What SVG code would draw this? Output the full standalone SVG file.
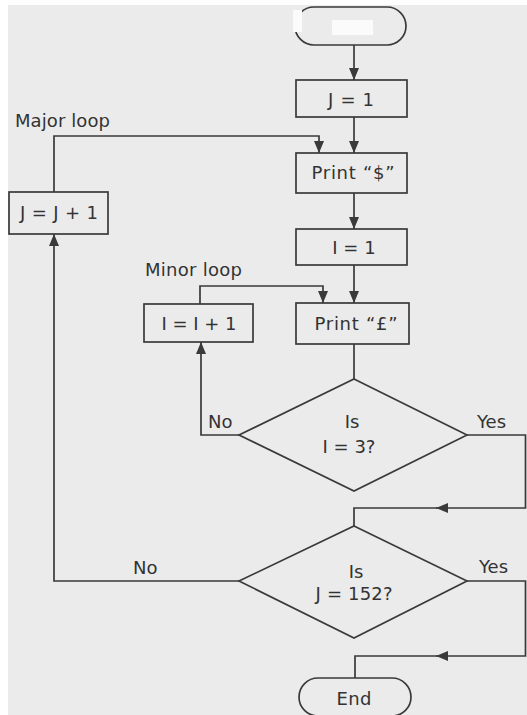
<svg xmlns="http://www.w3.org/2000/svg" width="527" height="715" viewBox="0 0 527 715">
<style>
.bg{fill:#ebebeb}
.shape{fill:none;stroke:#3a3a3a;stroke-width:1.7}
.line{fill:none;stroke:#3a3a3a;stroke-width:1.7}
.t{font-family:"DejaVu Sans","Liberation Sans",sans-serif;font-size:18px;fill:#333}
.c{text-anchor:middle}
.patch{fill:#fbfbfb}
</style>
<defs>
<marker id="arr" viewBox="0 0 12 10" refX="12" refY="5" markerWidth="12" markerHeight="10" markerUnits="userSpaceOnUse" orient="auto">
<path d="M0 0 L12 5 L0 10 Z" fill="#3a3a3a"/>
</marker>
</defs>
<rect width="527" height="715" fill="#ffffff"/>
<rect class="bg" x="8" y="5" width="519" height="710"/>
<text class="t" x="15" y="127" textLength="95">Major loop</text>
<text class="t" x="145" y="276" textLength="97">Minor loop</text>
<g id="connectors">
<path class="line" d="M354 45 V80" marker-end="url(#arr)"/>
<path class="line" d="M354 117 V153" marker-end="url(#arr)"/>
<path class="line" d="M54 192 V136 H319 V153" marker-end="url(#arr)"/>
<path class="line" d="M354 193 V229" marker-end="url(#arr)"/>
<path class="line" d="M354 265 V303" marker-end="url(#arr)"/>
<path class="line" d="M200 304 V286 H323 V303" marker-end="url(#arr)"/>
<path class="line" d="M354 344 V379"/>
<path class="line" d="M239 435 H201 V342" marker-end="url(#arr)"/>
<path class="line" d="M467 435 H525.5 V508 H436" marker-end="url(#arr)"/>
<path class="line" d="M437 508 H354 V526"/>
<path class="line" d="M239 581 H54 V234" marker-end="url(#arr)"/>
<path class="line" d="M467 581 H525.5 V656 H436" marker-end="url(#arr)"/>
<path class="line" d="M437 656 H355 V678"/>
<text class="t" x="208" y="428">No</text>
<text class="t" x="477" y="428">Yes</text>
<text class="t" x="133" y="574">No</text>
<text class="t" x="479" y="573">Yes</text>
</g>
<g id="start">
<rect class="shape" x="295" y="7" width="111" height="38" rx="19"/>
<rect class="patch" x="332" y="20" width="41" height="15"/>
<rect class="patch" x="293" y="10" width="9" height="22"/>
</g>
<g id="j1">
<rect class="shape" x="296" y="80" width="111" height="37"/>
<text class="t c" x="351" y="106" textLength="46">J = 1</text>
</g>
<g id="print-dollar">
<rect class="shape" x="296" y="153" width="111" height="40"/>
<text class="t c" x="353" y="179" textLength="83">Print “$”</text>
</g>
<g id="jinc">
<rect class="shape" x="9" y="192" width="99" height="42"/>
<text class="t c" x="59" y="219" textLength="78">J = J + 1</text>
</g>
<g id="i1">
<rect class="shape" x="296" y="229" width="111" height="36"/>
<text class="t c" x="354" y="254">I = 1</text>
</g>
<g id="iinc">
<rect class="shape" x="144" y="304" width="109" height="38"/>
<text class="t c" x="199" y="330" textLength="75">I = I + 1</text>
</g>
<g id="print-pound">
<rect class="shape" x="296" y="303" width="113" height="41"/>
<text class="t c" x="356" y="330" textLength="83">Print “£”</text>
</g>
<g id="dec-i">
<polygon class="shape" points="354,379 467,435 354,491 239,435"/>
<text class="t c" x="352" y="428">Is</text>
<text class="t c" x="349" y="453">I = 3?</text>
</g>
<g id="dec-j">
<polygon class="shape" points="354,526 467,581 354,638 239,581"/>
<text class="t c" x="356" y="578">Is</text>
<text class="t c" x="354" y="600" textLength="77">J = 152?</text>
</g>
<g id="end">
<rect class="shape" x="299" y="678" width="112" height="38" rx="19"/>
<text class="t c" x="354" y="705" textLength="35">End</text>
</g>
</svg>
